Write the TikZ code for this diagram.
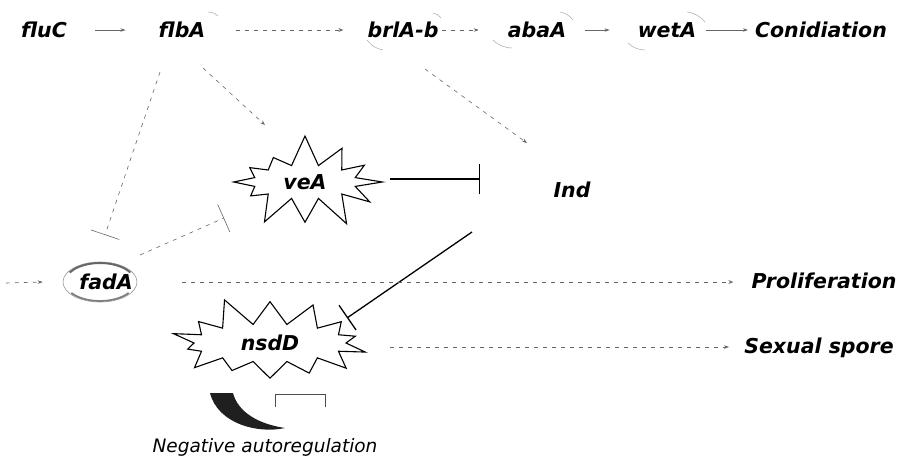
\documentclass[tikz,border=0pt]{standalone}
\usepackage{fontspec}
\setmainfont{DejaVu Sans}
\usetikzlibrary{arrows.meta,shapes.symbols,shapes.geometric,calc}
\begin{document}
\begin{tikzpicture}[x=1pt,y=-1pt,
  lbl/.style={inner sep=0pt, font=\fontsize{20.5}{24}\selectfont\bfseries\itshape,
              text height=15pt, text depth=0pt},
  burst/.style={starburst, draw=black, line width=1.1pt, fill=white, inner sep=0pt,
                font=\fontsize{20.5}{24}\selectfont\bfseries\itshape},
  link/.style={draw=black!60, line width=0.6pt},
  dlink/.style={link, dash pattern=on 4pt off 5pt},
  solidlink/.style={draw=black, line width=1.3pt},
  tip/.style={-{Stealth[length=5pt,width=3.5pt]}},
  otip/.style={-{Stealth[open,length=5pt,width=4pt]}},
  blunt/.style={-{Bar[width=30pt]}},
  faint/.style={draw=black!35, line width=0.5pt}
]
\useasboundingbox (0,0) rectangle (905,461);

% top row: the conidiation cascade
\node[lbl] (fluC) at (44,30) {fluC};
\node[lbl] (flbA) at (182,30) {flbA};
\node[lbl] (brlAb) at (403,30) {brlA-b};
\node[lbl] (abaA) at (537,30) {abaA};
\node[lbl] (wetA) at (667,30) {wetA};
\node[lbl] (conid) at (821,30) {Conidiation};

% regulators
\node[burst, minimum width=168pt, minimum height=98pt, starburst points=12,
      starburst point height=32pt, random starburst=7] (veA) at (305,182) {veA};
\node[lbl] (Ind) at (572,190) {Ind};
\node[ellipse, minimum width=74pt, minimum height=40pt, inner sep=0pt,
      draw=black!40, line width=0.6pt, fill=white] (fadA) at (100,282) {};
\draw[black!60, line width=2pt] ($(fadA.center)+(210:35 and 19)$)
  arc[start angle=210, end angle=330, x radius=35, y radius=19];
\draw[black!50, line width=1.8pt] ($(fadA.center)+(35:35 and 19)$)
  arc[start angle=35, end angle=145, x radius=35, y radius=19];
\node[lbl] at ($(fadA.center)+(6,0)$) {fadA};
\node[burst, minimum width=212pt, minimum height=98pt, starburst points=14,
      starburst point height=30pt, random starburst=11] (nsdD) at (270,343) {nsdD};

% outcomes
\node[lbl] (prolif) at (824,281) {Proliferation};
\node[lbl] (sexual) at (819,346) {Sexual spore};
\node[inner sep=0pt, font=\fontsize{18.5}{21}\selectfont\itshape] (negauto) at (265,447) {Negative autoregulation};
\coordinate (src) at (6,283);

% cascade arrows
\draw[link, tip, shorten <=28pt, shorten >=33pt] (fluC.east) -- (flbA.west);
\draw[dlink, otip, shorten <=30pt, shorten >=24pt] (flbA.east) -- (brlAb.west);
\draw[dlink, tip, shorten <=3pt, shorten >=29pt] (brlAb.east) -- (abaA.west);
\draw[link, tip, shorten <=19pt, shorten >=28pt] (abaA.east) -- (wetA.west);
\draw[link, tip, shorten <=10pt, shorten >=7pt] (wetA.east) -- (conid.west);

% regulatory links
\draw[dlink, blunt] ($(flbA.center)+(-22,42)$) -- ($(fadA.center)+(5,-47)$);
\draw[dlink, tip] ($(flbA.center)+(21,38)$) -- ($(veA.center)+(-40,-57)$);
\draw[dlink, tip] ($(brlAb.center)+(22,39)$) -- ($(Ind.center)+(-45,-47)$);
\draw[solidlink, blunt] ($(veA.center)+(85,-3)$) -- ($(Ind.center)+(-92,-11)$);
\draw[dlink, blunt] ($(fadA.center)+(40,-27)$) -- ($(veA.center)+(-81,36)$);
\draw[solidlink, blunt] ($(Ind.center)+(-100,42)$) -- ($(nsdD.center)+(77,-25)$);

% outputs
\draw[dlink, tip] (src) -- ($(fadA.west)+(-20,0)$);
\draw[dlink, otip] ($(fadA.center)+(82,0)$) -- ($(prolif.west|-fadA.center)+(-18,0)$);
\draw[dlink, tip] ($(nsdD.center)+(120,4)$) -- ($(sexual.west|-nsdD.center)+(-15,4)$);

% negative autoregulation symbol
\fill[black!88] (210,393) -- (233,393) .. controls (238,412) and (258,424) .. (285,428)
  .. controls (258,434) and (218,424) .. (210,393) -- cycle;
\draw[black!70, line width=0.8pt] (275,407) -- (275,394) -- (325,394) -- (325,407);

% faint outline traces around the cascade genes
\draw[faint] ($(flbA.center)+(26,-18)$) to[bend left=20] ($(flbA.center)+(36,-14)$);
\draw[faint] ($(brlAb.center)+(30,-17)$) to[bend left=20] ($(brlAb.center)+(38,-12)$);
\draw[faint] ($(brlAb.center)+(-36,10)$) to[bend right=20] ($(brlAb.center)+(-20,20)$);
\draw[faint] ($(abaA.center)+(23,-18)$) to[bend left=20] ($(abaA.center)+(36,-10)$);
\draw[faint] ($(abaA.center)+(-44,10)$) to[bend right=20] ($(abaA.center)+(-25,18)$);
\draw[faint] ($(wetA.center)+(20,-18)$) to[bend left=20] ($(wetA.center)+(38,-8)$);
\draw[faint] ($(wetA.center)+(-39,13)$) to[bend right=20] ($(wetA.center)+(-22,20)$);
\end{tikzpicture}
\end{document}
